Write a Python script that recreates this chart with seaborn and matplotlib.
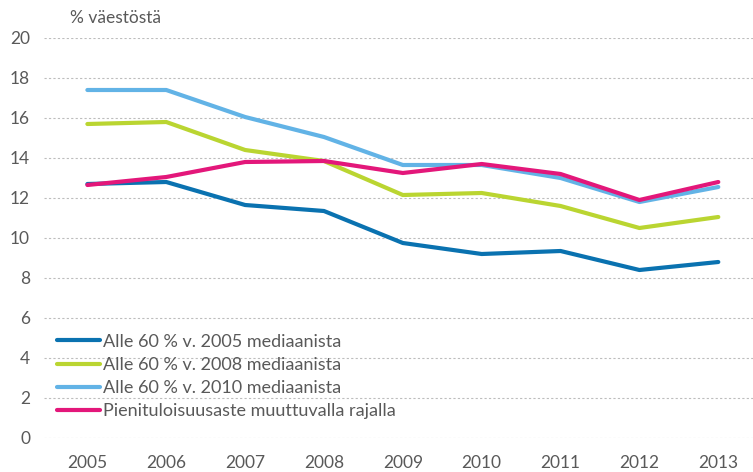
import pandas as pd
import matplotlib.pyplot as plt
import seaborn as sns

years = ["2005", "2006", "2007", "2008", "2009", "2010", "2011", "2012", "2013"]

series_names = [
    "Alle 60 % v. 2005 mediaanista",
    "Alle 60 % v. 2008 mediaanista",
    "Alle 60 % v. 2010 mediaanista",
    "Pienituloisuusaste muuttuvalla rajalla",
]

raja_2005 = [12.7, 12.8, 11.65, 11.35, 9.75, 9.2, 9.35, 8.4, 8.8]
raja_2008 = [15.7, 15.8, 14.4, 13.85, 12.15, 12.25, 11.6, 10.5, 11.05]
raja_2010 = [17.4, 17.4, 16.05, 15.05, 13.65, 13.65, 13.0, 11.8, 12.55]
muuttuva = [12.65, 13.05, 13.8, 13.85, 13.25, 13.7, 13.2, 11.9, 12.8]

colors = ["#0a72b0", "#bad531", "#62b3e6", "#e3177a"]

# long format for seaborn
rows = []
for name, vals in zip(series_names, [raja_2005, raja_2008, raja_2010, muuttuva]):
    for i, v in enumerate(vals):
        rows.append({"pos": i, "vuosi": years[i], "arvo": v, "sarja": name})
df = pd.DataFrame(rows)

sns.set_style("white")
plt.rcParams["font.family"] = ["Lato", "DejaVu Sans"]

fig = plt.figure(figsize=(7.53, 4.72), dpi=100)
ax = fig.add_axes([44 / 753, 34 / 472, 709 / 753, 400 / 472])

sns.lineplot(data=df, x="pos", y="arvo", hue="sarja", hue_order=series_names,
             palette=colors, linewidth=3, ax=ax)

ax.set_xlim(-0.55, 8.44)
ax.set_ylim(0, 20)
ax.set_yticks(range(0, 21, 2))
ax.set_xticks(range(len(years)))
ax.set_xticklabels(years)
ax.set_xlabel("")
ax.set_ylabel("")
for s in ax.spines.values():
    s.set_visible(False)
ax.yaxis.grid(True, linestyle=(0, (2, 2)), color="#bdbdbd", linewidth=0.8)
ax.set_axisbelow(True)
ax.tick_params(axis="both", length=0, labelsize=12.5, colors="#595959")
ax.tick_params(axis="y", pad=10)
ax.tick_params(axis="x", pad=12)

fig.text(70 / 753, 1 - 18 / 472, "% väestöstä", fontsize=12.5, color="#595959",
         va="center", ha="left")

leg = ax.legend(loc="lower left", bbox_to_anchor=(0.0, 0.015), frameon=False,
                fontsize=13, handlelength=2.4, handletextpad=0.15,
                labelspacing=0.4, borderaxespad=0.3)
for t in leg.get_texts():
    t.set_color("#595959")

fig.savefig("out.png", dpi=100)
